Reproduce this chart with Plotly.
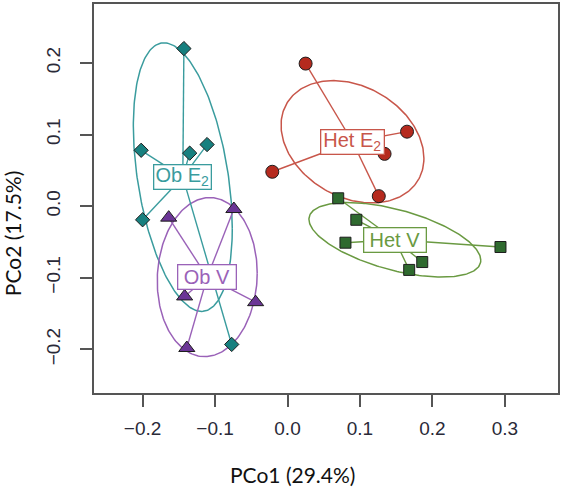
import numpy as np
import plotly.graph_objects as go

# ---- data ----
groups = ["Ob E<sub>2</sub>", "Ob V", "Het E<sub>2</sub>", "Het V"]

obE2_x = [-0.143, -0.202, -0.135, -0.111, -0.200, -0.077]
obE2_y = [0.220, 0.078, 0.074, 0.086, -0.019, -0.193]

obV_x = [-0.164, -0.074, -0.142, -0.044, -0.139]
obV_y = [-0.016, -0.004, -0.126, -0.134, -0.198]

hetE2_x = [0.025, 0.165, 0.134, 0.126, -0.021]
hetE2_y = [0.199, 0.104, 0.073, 0.014, 0.048]

hetV_x = [0.070, 0.095, 0.080, 0.294, 0.186, 0.168]
hetV_y = [0.011, -0.019, -0.051, -0.057, -0.078, -0.089]

# group centroids (label / spider hub positions)
centre_x = [-0.1445, -0.1108, 0.0897, 0.1482]
centre_y = [0.0406, -0.0990, 0.0899, -0.0469]

# dispersion ellipses: half-extent in x, half-extent in y, correlation
ell_sx = [0.0683, 0.069, 0.0986, 0.1186]
ell_sy = [0.1875, 0.111, 0.0854, 0.052]
ell_r = [-0.38, 0.05, -0.27, -0.55]

xticks = [-0.2, -0.1, 0.0, 0.1, 0.2, 0.3]
yticks = [-0.2, -0.1, 0.0, 0.1, 0.2]

# ---- styles ----
xs = [obE2_x, obV_x, hetE2_x, hetV_x]
ys = [obE2_y, obV_y, hetE2_y, hetV_y]
line_cols = ["#3a9c9e", "#9a62b8", "#c8564a", "#6a9a42"]
fill_cols = ["#17807f", "#6b3596", "#b52a1e", "#2f6a2f"]
symbols = ["diamond", "triangle-up", "circle", "square"]
sizes = [11, 14, 13, 11]
box_w = [54, 55, 60, 59]

fig = go.Figure()
t = np.linspace(0, 2 * np.pi, 241)
for i in range(4):
    cx, cy = centre_x[i], centre_y[i]
    r = ell_r[i]
    ex = cx + ell_sx[i] * np.cos(t)
    ey = cy + ell_sy[i] * (r * np.cos(t) + np.sqrt(1 - r * r) * np.sin(t))
    fig.add_trace(go.Scatter(x=ex, y=ey, mode="lines",
                             line=dict(color=line_cols[i], width=1.5),
                             hoverinfo="skip", showlegend=False))
for i in range(4):
    sx, sy = [], []
    for px, py in zip(xs[i], ys[i]):
        sx += [centre_x[i], px, None]
        sy += [centre_y[i], py, None]
    fig.add_trace(go.Scatter(x=sx, y=sy, mode="lines",
                             line=dict(color=line_cols[i], width=1.4),
                             hoverinfo="skip", showlegend=False))
for i in range(4):
    fig.add_trace(go.Scatter(x=xs[i], y=ys[i], mode="markers",
                             marker=dict(symbol=symbols[i], size=sizes[i],
                                         color=fill_cols[i],
                                         line=dict(color="#1e1e1e", width=1)),
                             showlegend=False))
for i in range(4):
    fig.add_annotation(x=centre_x[i], y=centre_y[i], text=groups[i],
                       showarrow=False, xanchor="center", yanchor="middle",
                       font=dict(family="Liberation Sans, Arial", size=20,
                                 color=line_cols[i]),
                       bgcolor="white", bordercolor=line_cols[i],
                       borderwidth=1.3, borderpad=1, width=box_w[i], height=21)

fig.add_annotation(xref="paper", yref="paper", x=0.427, y=-0.2097,
                   text="PCo1 (29.4%)", showarrow=False,
                   xanchor="center", yanchor="middle",
                   font=dict(family="Lato, Open Sans", size=21, color="#111111"))
fig.add_annotation(xref="paper", yref="paper", x=-0.174, y=0.409,
                   text="PCo2 (17.5%)", showarrow=False, textangle=-90,
                   xanchor="center", yanchor="middle",
                   font=dict(family="Lato, Open Sans", size=21, color="#111111"))

axis_common = dict(showgrid=False, zeroline=False, showline=True, mirror=True,
                   linecolor="#555555", linewidth=1.5, ticks="outside",
                   ticklen=12, tickwidth=1.5, tickcolor="#555555",
                   tickfont=dict(family="Liberation Sans, Arial", size=19,
                                 color="#2a2a38"))
fig.update_xaxes(range=[-0.2671, 0.3734], tickvals=xticks,
                 ticktext=[f"{v:.1f}".replace("-", "\u2212") for v in xticks],
                 ticklabelstandoff=5, **axis_common)
fig.update_yaxes(range=[-0.2608, 0.2822], tickvals=yticks,
                 ticktext=[f"{v:.1f}".replace("-", "\u2212") for v in yticks],
                 tickangle=-90, ticklabelstandoff=13, **axis_common)

fig.update_layout(width=562, height=488,
                  margin=dict(l=94, r=3, t=2, b=95),
                  paper_bgcolor="white", plot_bgcolor="white")

fig.write_html("out.html", config={"displayModeBar": False},
               post_script="document.body.style.margin='0';"
                           "document.body.style.overflow='hidden';")
